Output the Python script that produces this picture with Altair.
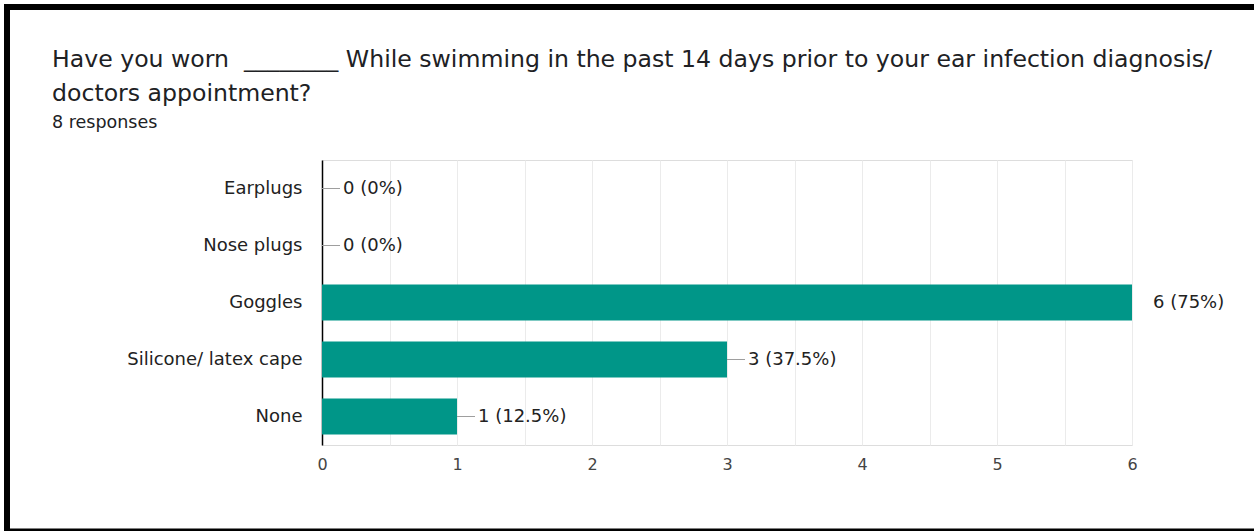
import altair as alt
import pandas as pd

categories = ["Earplugs", "Nose plugs", "Goggles", "Silicone/ latex cape", "None"]
counts = [0, 0, 6, 3, 1]
value_labels = ["0 (0%)", "0 (0%)", "6 (75%)", "3 (37.5%)", "1 (12.5%)"]
x_ticks = [0, 0.5, 1, 1.5, 2, 2.5, 3, 3.5, 4, 4.5, 5, 5.5, 6]

title_lines = [
    "Have you worn\u00a0\u00a0________ While swimming in the past 14 days prior to your ear infection diagnosis/",
    "doctors appointment?",
]
subtitle = "8 responses"

df = pd.DataFrame({"cat": categories, "count": counts, "label": value_labels})

W, H = 810, 285
PL, PT = 322, 160
LABEL_FONT = "DejaVu Sans"
HEAD_FONT = "DejaVu Sans"

y_enc = alt.Y("cat:N", sort=categories,
              scale=alt.Scale(paddingInner=0.37, paddingOuter=0.185),
              axis=alt.Axis(title=None, ticks=False, domain=True, domainColor="#000000",
                            domainWidth=1.5, labelPadding=20, labelFontSize=18,
                            labelFont=LABEL_FONT, labelColor="#222222",
                            labelLimit=300))
x_scale = alt.Scale(domain=[0, 6], nice=False)
x_enc = alt.X("count:Q", scale=x_scale,
              axis=alt.Axis(title=None, values=x_ticks, ticks=False, domain=False,
                            grid=True, gridColor="#ebebeb", gridWidth=1, labelFlush=False,
                            labelExpr="datum.value % 1 == 0 ? toString(datum.value) : ''",
                            labelFontSize=16, labelFont=LABEL_FONT,
                            labelColor="#444444", labelPadding=11))

bars = alt.Chart(df).mark_bar(color="#009688", size=36).encode(x=x_enc, y=y_enc)

leaders = alt.Chart(df).mark_rule(color="#9e9e9e", strokeWidth=1, x2Offset=18, clip=True).encode(
    x="count:Q", x2="count:Q", y=alt.Y("cat:N", sort=categories))

texts = alt.Chart(df).mark_text(align="left", baseline="middle", dx=21, fontSize=18,
                                font=LABEL_FONT, color="#222222").encode(
    x="count:Q", y=alt.Y("cat:N", sort=categories), text="label:N")

# Heading as text placed above the plot
head_df = pd.DataFrame({"t": title_lines + [subtitle], "i": [0, 1, 2]})
head_big = alt.Chart(head_df).transform_filter("datum.i < 2").transform_calculate(
    yy="datum.i == 0 ? %d : %d" % (67 - PT, 101 - PT)
).mark_text(align="left", baseline="alphabetic", font=HEAD_FONT, fontSize=23.6,
            color="#202124").encode(
    x=alt.value(52 - PL), y=alt.Y("yy:Q", scale=None), text="t:N")
head_sub = alt.Chart(head_df).transform_filter("datum.i == 2").mark_text(
    align="left", baseline="alphabetic", font=HEAD_FONT, fontSize=17.5, color="#202124").encode(
    x=alt.value(52 - PL), y=alt.value(128 - PT), text="t:N")

border_df = pd.DataFrame({"k": ["top", "left", "bottom"]})
top = alt.Chart(border_df).transform_filter("datum.k == 'top'").mark_rect(color="black").encode(
    x=alt.value(4 - PL), x2=alt.value(1254 - PL), y=alt.value(4 - PT), y2=alt.value(10 - PT))
left = alt.Chart(border_df).transform_filter("datum.k == 'left'").mark_rect(color="black").encode(
    x=alt.value(4 - PL), x2=alt.value(10 - PL), y=alt.value(4 - PT), y2=alt.value(531 - PT))
bottom = alt.Chart(border_df).transform_filter("datum.k == 'bottom'").mark_rect(color="black").encode(
    x=alt.value(4 - PL), x2=alt.value(1254 - PL), y=alt.value(528.5 - PT), y2=alt.value(531 - PT))

chart = alt.layer(bars, leaders, texts, head_big, head_sub, top, left, bottom).properties(
    width=W, height=H,
    padding={"left": PL, "top": PT, "right": 1254 - PL - W, "bottom": 531 - PT - H},
    autosize=alt.AutoSizeParams(type="none"),
).configure_view(stroke="#ebebeb").configure(background="white")

chart.save("out.html", embed_options={"renderer": "svg", "actions": False})
